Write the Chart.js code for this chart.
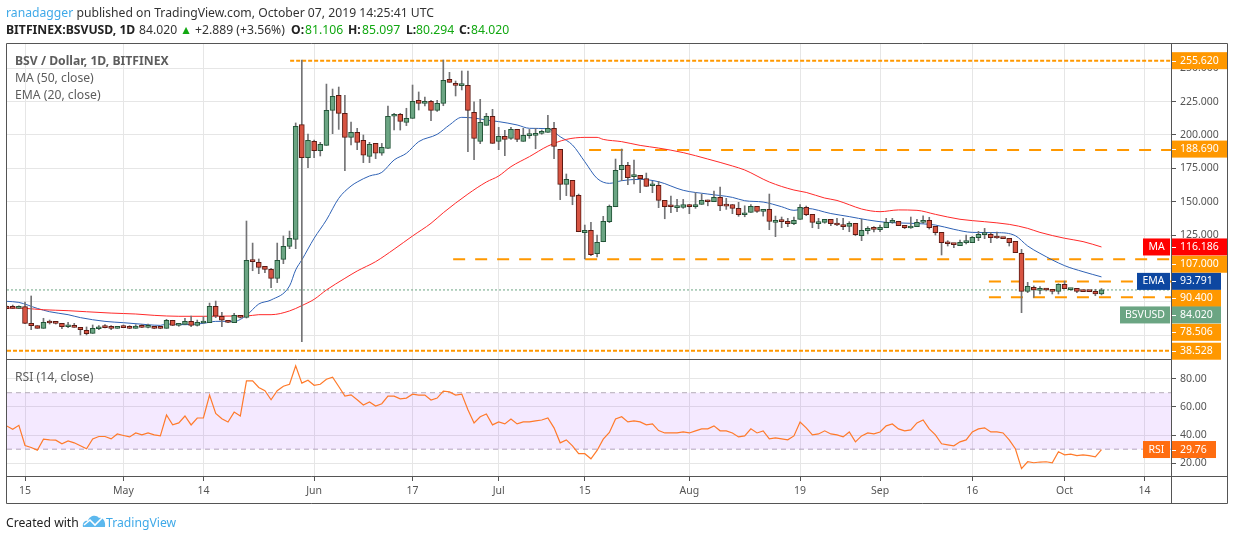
<!DOCTYPE html>
<html>
<head>
<meta charset="utf-8">
<title>BSV / Dollar</title>
<script src="https://cdn.jsdelivr.net/npm/chart.js@4/dist/chart.umd.js"></script>
<style>
  html, body { margin: 0; padding: 0; background: #fff; }
  body { width: 1234px; height: 540px; overflow: hidden; position: relative; font-family: "Noto Sans", sans-serif; }
  canvas { position: absolute; left: 0; top: 0; }
  .txt { position: absolute; white-space: nowrap; }
  .hd { top: 21px; font-size: 12.2px; color: #333; }
  .blue { color: #3fa9e8; }
  .green { color: #12a812; }
  b { color: #222; }
</style>
</head>
<body>
<canvas id="chart" width="1234" height="540"></canvas>
<div class="txt" style="left:6px;top:4px;font-size:12.2px;color:#333"><span class="blue">ranadagger</span> published on TradingView.com, October 07, 2019 14:25:41 UTC</div>
<div class="txt hd" style="left:6px"><b>BITFINEX:BSVUSD, 1D</b></div>
<div class="txt hd" style="left:139px">84.020</div>
<div class="txt hd" style="left:180px;color:#12a812">▲</div>
<div class="txt hd" style="left:195px">+2.889 (+3.56%)</div>
<div class="txt hd" style="left:291px"><b>O:</b></div>
<div class="txt hd green" style="left:305px">81.106</div>
<div class="txt hd" style="left:348px"><b>H:</b></div>
<div class="txt hd green" style="left:362px">85.097</div>
<div class="txt hd" style="left:406px"><b>L:</b></div>
<div class="txt hd green" style="left:416px">80.294</div>
<div class="txt hd" style="left:459px"><b>C:</b></div>
<div class="txt hd green" style="left:471px">84.020</div>
<div class="txt" style="left:15px;top:52px;font-size:12.2px;font-weight:bold;color:#5d5d5d">BSV / Dollar, 1D, BITFINEX</div>
<div class="txt" style="left:15px;top:69px;font-size:12.2px;color:#5d5d5d">MA (50, close)</div>
<div class="txt" style="left:15px;top:86px;font-size:12.2px;color:#5d5d5d">EMA (20, close)</div>
<div class="txt" style="left:15px;top:368px;font-size:12.2px;color:#5d5d5d">RSI (14, close)</div>
<div class="txt" style="left:6px;top:514px;font-size:12.2px;color:#222">Created with</div>
<svg style="position:absolute;left:82px;top:514px" width="24" height="15" viewBox="0 0 24 15">
  <path d="M1 13 C0 9 3 6 6 7 C7 2 14 0 17 4 C21 3 24 8 23 13 Z" fill="#5cb8ee"/>
  <path d="M2 11 L8 6 L13 11 L20 4" fill="none" stroke="#fff" stroke-width="1.6"/>
</svg>
<div class="txt blue" style="left:106px;top:514px;font-size:12.2px">TradingView</div>
<script>
// BSV / USD daily candles, index 0 = Apr 12 2019, index 178 = Oct 07 2019
const opens = [
  71.7,71.7,70.2,71.5,59,57.3,55.3,60,59.8,59,
  56.5,57.5,56,53.8,51.5,55,56.3,56.3,55.3,56.3,
  56.3,55.3,57,56,56,56.3,55.3,61.3,57.5,58.3,
  60.5,57.5,59.3,59.5,71.7,64.3,61.3,59.5,65,63.5,
  106.2,104.7,101.7,99.4,92.7,106.9,116.6,121.9,207.7,183,
  195.2,188.2,192.2,218.4,229.7,216.2,198.2,202,196,184,
  193.7,186.3,190,214,215.4,209.4,212.4,225.9,223.7,225.2,
  218.4,223.7,241.6,238.6,236.9,237.1,216.9,195.2,207.2,214,
  195.2,199,197.5,204.2,195.2,199.5,199.7,201.2,202,205,
  189.2,163,166,154.8,126.9,128.6,111.2,120.1,135.1,146.3,
  174,177.3,168.8,169.8,167.3,162,162.3,151,147.3,145.6,
  145.8,148,146.3,148,151.3,150,153.3,147.3,148,145.1,
  140.3,142.1,146.6,142.8,144.3,134.6,135.6,135.3,133.6,136.8,
  145.8,140.6,133.6,134.6,136.8,133.1,133,131.6,133.9,124.6,
  128.4,130.1,129.1,130.6,134.6,135.4,132.4,130.4,131.4,134.6,
  136.1,131.6,127.1,119.9,118.9,117.2,119.4,119.4,123.1,125.4,
  125.6,123.6,123.4,122.6,120.4,111.4,83,86,83.7,84.7,
  84.5,83,88.2,84.2,85.2,83.2,83.2,83,81.106
];
const highs = [
  72.2,72.7,72.2,75,79.5,57.3,62.8,61.5,60.5,59,
  59.8,59,56,56.3,57.8,57.3,58,57.3,56.8,57.8,
  57.3,58,58,58.5,56,56.3,62,61.3,59,62.8,
  64.5,61.5,64,74.2,75.7,67.3,61.3,66.5,65,135.6,
  119.1,107.2,101.7,100.2,119.1,124.4,128.1,209,256.1,200.7,
  196.2,194.5,238.1,234.4,235.9,229.7,209.7,205,200,194.5,
  193.7,193.7,221.7,216.2,216.2,220,237.4,232.2,228.4,225.9,
  225.9,256.1,246.9,240.4,247.9,247.9,224.9,226.7,216.2,219.2,
  205.7,203.5,205.7,204.2,205,204.2,205,203.7,214.7,209.5,
  189.2,170.8,166,155.8,132.6,134.6,125.1,139.1,147.6,182,
  189.5,179.5,181.3,169.8,171.5,165.3,165.3,151,154.3,151.8,
  151.8,148,156.8,155.8,151.3,158,161,152.6,148,149.6,
  147,148,146.6,144.3,155.8,139.3,138.6,137.6,138.6,148,
  146.8,140.6,137.6,136.8,136.8,137.6,137.6,135.1,133.9,136.9,
  131.4,131.4,132.6,137.6,137.6,135.4,132.4,138.6,136.9,139.4,
  138.4,131.6,127.1,120.9,118.9,121.4,125.1,124.1,127.9,130.1,
  127.1,127.4,123.4,122.6,120.4,114.4,89.7,87,86.5,85.2,
  84.5,88.7,90.7,85.2,85.2,84,83.7,84.5,85.097
];
const lows = [
  70,70,70,58.8,54.3,55.3,55.3,58.5,58.5,55,
  55.8,56,50.3,50.3,51.5,54.3,55.5,54.3,55.3,55.8,
  55,55.3,55.8,55.5,55,55,55.3,57.3,56.8,58,
  56.5,57,59,59.5,63.3,56.5,59.5,59.5,63,63,
  98.4,96.2,97,85.7,89.5,103.7,114.9,114.9,45.3,175.5,
  183,184.3,192.2,201,204.2,173.3,192.5,189,179.3,179.3,
  182.3,184.8,190,203.7,203.7,207,212.4,218.7,221.7,210.7,
  217.7,221.9,239.4,229.2,233.7,187.5,181.5,193.5,207.2,193.7,
  189,184.5,196.7,195,195.2,197.5,189.7,200.5,202,182.3,
  151.6,154.6,147.8,127.6,107.2,109.7,108.7,120.1,134.4,146.3,
  165.8,162.8,163.3,156.8,161.5,156.8,145.6,137.3,141.8,142.6,
  145.1,141.1,145.1,148,147,150,143.3,144.3,141.1,139.1,
  138.8,142.1,142.1,139.3,129.1,123.9,130.6,131.4,132.9,136.8,
  139.6,130.6,129.9,133.9,132.1,132.1,129.1,127.6,124.6,120.9,
  125.9,127.4,127.6,130.6,133.9,132.1,129.9,130.1,131.4,133.9,
  129.6,125.1,110.2,116.9,115.7,117.2,118.4,119.4,120.9,122.4,
  119.4,122.6,122.4,116.9,111.9,67,82,78.5,81,83.2,
  81,81,85,83.7,82,82.7,82.7,79.7,80.294
];
const closes = [
  70,70.2,71.7,59,57.3,55.3,59.8,59.3,59,56.5,
  57.5,56,54.3,51.3,55.3,56,55.8,55.3,56.8,55.8,
  55.3,57,56,56.3,55.3,55.3,61.3,57.5,58.5,60.5,
  57.5,59.8,59.8,71.7,64.3,61.3,59.8,65,63.5,106.2,
  105.2,100.9,99.4,92.7,106.2,116.6,122.6,206.5,183,196,
  188.2,193,218.4,228.9,216.2,198.2,202,194.5,184.8,193,
  186.3,190.7,214,215.4,210.2,212.4,225.2,223.7,225.2,218.4,
  223.7,240.9,239.4,237.1,237.4,218.4,197.5,209.4,214,193.7,
  199,196.7,204.2,196.7,199.7,200,201.2,202.2,205,191.5,
  163,166.8,154.1,127.6,128.6,110.4,119.6,135.4,146.6,173.5,
  177.3,168,169.8,167.3,161.5,163,151,146.3,146.3,146,
  148,146.3,148,151,150,153.3,147,146.8,145.1,140.3,
  141.3,146.6,142.8,144.3,135.3,136.1,135.1,133.6,136.1,145.8,
  140.3,134.6,134.6,136.8,133.6,132.6,131.4,133.9,125.4,128.6,
  130.1,129.4,130.9,134.6,135.4,132.1,130.6,130.9,134.6,136.1,
  130.6,126.9,119.4,118.6,117.9,119.7,120.4,123.4,125.6,125.9,
  123.1,122.9,122.4,119.4,111.9,83,86.7,84,84.7,84,
  83,88.2,85,85.2,83,82.7,82.7,81.13,84.02
];

const maDays = [0,3,6,10,13,17,21,24,28,32,37,39,41,43,46,48,50,52,55,57,60,63,66,69,71,75,78,80,82,85,88,91,94,96,97,100,103,106,110,114,118,120,124,128,130,133,135,137,139,142,145,148,151,155,159,163,166,168,172,175,178];
const maValues = [70.5,70.2,69.2,68.5,67.7,66.7,66,65,64.3,64.3,64.5,64.5,65.5,65.5,68.3,72.3,77,84,92.7,98.2,105.2,114.5,124.4,133.9,141.8,155.8,164.8,169.3,176.3,183.8,191.7,196.7,198.2,198.2,196.7,195,192.2,190.2,186.8,182,176.8,173.8,164.8,158.8,157,152.8,151,147.8,144.6,142.6,143.9,143.6,140.6,136.9,135.1,133.1,130.1,127.1,122.7,120.2,116.19];
const emaDays = [0,2,5,7,10,12,16,19,23,25,26,29,32,34,37,39,41,43,46,47,48,50,52,54,56,57,59,61,63,65,67,70,72,74,76,78,80,83,85,88,90,92,94,96,98,100,103,106,110,114,118,120,123,126,128,130,134,137,140,143,147,151,154,157,161,164,166,168,172,175,178];
const emaValues = [75.5,74.7,70.2,67.7,65.5,63.3,60.5,59.5,58,57.5,58.5,58,59,60.5,60.5,65,73.5,76.5,87,99,106.5,122.7,136.4,152.6,161.8,164.8,169.3,172,181.3,186.3,195,200.5,207.5,213.2,212.7,211.2,210,207.5,205,204.7,198.7,192.5,180,167.5,163.8,165.8,166.8,165,158.6,155.8,153.3,150.8,149.8,146.3,143.6,145.1,141.2,138.9,136.4,134.6,133.9,132.6,129.4,127.1,126.9,124.6,116.9,111.4,102.2,97.7,93.79];

const rsi = [
  46.5,44.1,46.9,32.6,31.2,29.3,37.1,36.6,36.4,33.8,
  35.9,34.5,32.4,30.3,37.3,39,39,37.3,40.8,39.7,
  38.7,41.5,40.1,41.5,40.1,39.4,54.2,47.2,48.6,53.5,
  47.2,52.1,52.1,68.3,55.4,51.6,49.3,56.3,53.5,78.4,
  78.4,73.7,71.4,65,71.4,74.6,76,89,76.8,78.9,
  75.3,76,79.6,81,74.4,67.6,68.5,65,61.3,63.4,
  60.6,62.2,67.6,67.6,65.7,66.2,69,68.3,68.3,64.8,
  66.2,71.1,70.6,68.3,69,58,48.6,53,54.9,47.2,
  49.3,47.9,51.4,47.9,49.3,49.3,50,50.7,52.1,45.1,
  34.5,36.6,32.4,26.8,26.8,23.2,29.1,37.1,41.8,51.4,
  53,49.3,50,49.3,47.2,47.9,43.2,41.5,41.5,41.5,
  42.2,41.5,43,44.4,44.4,46.5,43,43,41.5,38.7,
  39.4,44.4,41.5,43,37.3,38,37.3,36.6,39.4,49.3,
  45.1,40.1,40.8,43,40.8,40.1,38.7,42.2,35.2,39.4,
  41.5,40.8,42.2,46.5,47.9,44.4,43,43.7,48.6,50.7,
  44.4,40.1,33.8,33.1,32.4,35.2,36.6,42.2,44.4,45.1,
  42.2,42.2,41.5,36.6,30.3,16.2,21.1,20.4,20.9,21.1,
  20.4,28.2,26,26.5,25.4,26,25.4,24.6,29.76
];

// time axis
const tickDays = [3,19,32,50,66,80,94,111,129,142,157,172,185];
const tickLabels = ['15','May','14','Jun','17','Jul','15','Aug','19','Sep','16','Oct','14'];

// horizontal levels drawn on the chart
const denseLevels = [255.62, 38.528];
const denseStarts = [46.1, 0.07];
const longLevels = [188.69, 107, 90.4, 78.506];
const longStarts = [94.7, 72.6, 159.7, 159.7];
const lastPrice = 84.02;
const rsiBand = [70, 30];

const xMin = 0.07, xMax = 189.3;
const priceTicks = [50,75,100,125,150,175,200,225,250];
const rsiTicks = [20,40,60,80];

const UP = '#6ba583', DOWN = '#d75442', UP_EDGE = '#225437', DOWN_EDGE = '#5b1a13', WICK = '#737375', ORANGE = '#ff9800';
const isUp = closes.map((c, i) => c >= opens[i]);
const pts = (days, vals) => days.map((d, i) => ({ x: d, y: vals[i] }));

const levelLine = (value, start, dash) => ({
  type: 'line', yAxisID: 'y', order: 4, borderColor: ORANGE, borderWidth: 2, borderDash: dash,
  pointRadius: 0, data: [{ x: start, y: value }, { x: xMax, y: value }]
});

// price-scale tags: text, colour, side label, nudge off the real value where they would overlap
const tags = [
  { axis: 'y', value: 255.62, text: '255.620', color: ORANGE, wide: true, nudge: 0 },
  { axis: 'y', value: 188.69, text: '188.690', color: ORANGE, wide: true, nudge: -1 },
  { axis: 'y', value: 116.186, text: '116.186', color: '#ff0000', wide: true, nudge: 0, label: 'MA', labelLeft: 1143 },
  { axis: 'y', value: 107, text: '107.000', color: ORANGE, wide: true, nudge: 5 },
  { axis: 'y', value: 93.791, text: '93.791', color: '#0d47a1', nudge: 4.5, label: 'EMA', labelLeft: 1137 },
  { axis: 'y', value: 90.4, text: '90.400', color: ORANGE, nudge: 17 },
  { axis: 'y', value: 84.02, text: '84.020', color: UP, nudge: 25, label: 'BSVUSD', labelLeft: 1120 },
  { axis: 'y', value: 78.506, text: '78.506', color: ORANGE, nudge: 35 },
  { axis: 'y', value: 38.528, text: '38.528', color: ORANGE, nudge: 0.5 },
  { axis: 'rsi', value: 29.76, text: '29.76', color: '#ff6d10', nudge: 0, label: 'RSI', labelLeft: 1143 }
];

const framePlugin = {
  id: 'frame',
  afterDraw(chart) {
    const c = chart.ctx, a = chart.chartArea;
    const paneY = Math.round(chart.scales.y.bottom) + 0.5;
    c.save();
    c.font = '10.5px "Noto Sans", sans-serif';
    c.textBaseline = 'middle';
    tags.forEach(t => {
      const y = chart.scales[t.axis].getPixelForValue(t.value) + t.nudge;
      const right = t.wide ? 1227 : t.axis === 'rsi' ? 1216 : 1221;
      c.fillStyle = t.color;
      c.fillRect(1172, y - 8.5, right - 1172, 17);
      if (t.label) {
        c.fillRect(t.labelLeft, y - 8.5, 1170 - t.labelLeft, 17);
        c.fillStyle = '#fff';
        c.textAlign = 'center';
        c.fillText(t.label, (t.labelLeft + 1170) / 2, y);
      }
      c.fillStyle = '#fff';
      c.textAlign = 'left';
      c.fillText(t.text, 1180, y);
      c.fillRect(1172, Math.round(y), 4, 1);
    });
    c.strokeStyle = '#555';
    c.lineWidth = 1;
    c.beginPath();
    c.rect(6.5, 43.5, 1221, 460);
    c.moveTo(1171.5, 43.5); c.lineTo(1171.5, 503.5);
    c.moveTo(6.5, paneY); c.lineTo(1171.5, paneY);
    c.moveTo(6.5, Math.round(a.bottom) + 0.5); c.lineTo(1227.5, Math.round(a.bottom) + 0.5);
    c.stroke();
    c.restore();
  }
};

const fixedTicks = list => scale => { scale.ticks = list.map(v => ({ value: v })); };
const tickFont = { family: '"Noto Sans", sans-serif', size: 10.5 };

new Chart(document.getElementById('chart'), {
  type: 'bar',
  plugins: [framePlugin],
  data: {
    datasets: [
      // candle bodies and wicks
      {
        order: 1, grouped: false, yAxisID: 'y', barThickness: 5, borderWidth: 1, borderSkipped: false, minBarLength: 2,
        backgroundColor: isUp.map(u => u ? UP : DOWN),
        borderColor: isUp.map(u => u ? UP_EDGE : DOWN_EDGE),
        data: opens.map((o, i) => ({ x: i, y: [o, closes[i]] }))
      },
      {
        order: 2, grouped: false, yAxisID: 'y', barThickness: 1, borderWidth: 0,
        backgroundColor: WICK,
        data: lows.map((l, i) => ({ x: i, y: [l, highs[i]] }))
      },
      { type: 'line', order: 3, yAxisID: 'y', borderColor: '#ff2a2a', borderWidth: 1, cubicInterpolationMode: 'monotone', pointRadius: 0, data: pts(maDays, maValues) },
      { type: 'line', order: 3, yAxisID: 'y', borderColor: '#2f62b5', borderWidth: 1, cubicInterpolationMode: 'monotone', pointRadius: 0, data: pts(emaDays, emaValues) },
      ...denseLevels.map((v, i) => levelLine(v, denseStarts[i], [4, 2])),
      ...longLevels.map((v, i) => levelLine(v, longStarts[i], [12, 10])),
      {
        type: 'line', order: 5, yAxisID: 'y', borderColor: UP, borderWidth: 1, borderDash: [2, 2], pointRadius: 0,
        data: [{ x: xMin, y: lastPrice }, { x: xMax, y: lastPrice }]
      },
      // RSI pane
      {
        type: 'line', order: 7, yAxisID: 'rsi', borderColor: '#b4abb8', borderWidth: 1, borderDash: [5, 4], pointRadius: 0,
        backgroundColor: 'rgba(153, 51, 255, 0.11)', fill: '+1',
        data: [{ x: xMin, y: rsiBand[0] }, { x: xMax, y: rsiBand[0] }]
      },
      {
        type: 'line', order: 7, yAxisID: 'rsi', borderColor: '#b4abb8', borderWidth: 1, borderDash: [5, 4], pointRadius: 0,
        data: [{ x: xMin, y: rsiBand[1] }, { x: xMax, y: rsiBand[1] }]
      },
      { type: 'line', order: 6, yAxisID: 'rsi', borderColor: '#ff7a2a', borderWidth: 1.2, pointRadius: 0, data: rsi.map((v, i) => ({ x: i, y: v })) }
    ]
  },
  options: {
    responsive: false,
    animation: false,
    devicePixelRatio: 1,
    layout: { padding: { left: 7, right: 7, top: 44, bottom: 37 } },
    plugins: { legend: { display: false }, tooltip: { enabled: false } },
    scales: {
      x: {
        type: 'linear', min: xMin, max: xMax, offset: false,
        afterBuildTicks: fixedTicks(tickDays),
        afterFit(s) { s.height = 27; },
        border: { display: false },
        grid: { offset: false, color: '#e6e6e6', tickColor: '#555', tickLength: 5 },
        ticks: {
          autoSkip: false, maxRotation: 0, color: '#555', font: tickFont, padding: 4,
          callback: v => tickLabels[tickDays.indexOf(v)]
        }
      },
      y: {
        type: 'linear', position: 'right', stack: 'panes', stackWeight: 315,
        min: 32.33, max: 268.1,
        afterBuildTicks: fixedTicks(priceTicks),
        afterFit(s) { s.width = 56; },
        border: { display: false },
        grid: { color: '#e6e6e6', tickColor: '#555', tickLength: 5 },
        ticks: { color: '#555', font: tickFont, padding: 4, callback: v => v.toFixed(3) }
      },
      rsi: {
        type: 'linear', position: 'right', stack: 'panes', stackWeight: 117,
        min: 11, max: 93.9,
        afterBuildTicks: fixedTicks(rsiTicks),
        afterFit(s) { s.width = 56; },
        border: { display: false },
        grid: { color: '#e6e6e6', tickColor: '#555', tickLength: 5 },
        ticks: { color: '#555', font: tickFont, padding: 4, callback: v => v.toFixed(2) }
      }
    }
  }
});
</script>
</body>
</html>
